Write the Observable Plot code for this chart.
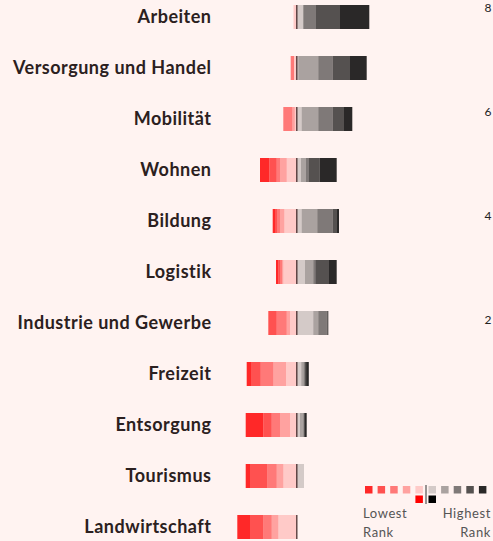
<!DOCTYPE html>
<html>
<head>
<meta charset="utf-8">
<script src="https://cdn.jsdelivr.net/npm/d3@7"></script>
<script src="https://cdn.jsdelivr.net/npm/@observablehq/plot@0.6"></script>
<style>
  html, body { margin: 0; padding: 0; background: #fff3f1; }
  #wrap { position: relative; width: 493px; height: 541px; overflow: hidden; background: #fff3f1; }
  #wrap svg { position: absolute; left: 0; top: 0; }
</style>
</head>
<body>
<div id="wrap"></div>
<script>
const categories = ["Arbeiten", "Versorgung und Handel", "Mobilität", "Wohnen", "Bildung", "Logistik",
  "Industrie und Gewerbe", "Freizeit", "Entsorgung", "Tourismus", "Landwirtschaft"];
// share of each rank per category (rank 1 = lowest, rank 10 = highest)
const rank1  = [0,   0,   0,   9.3, 3,   2.5, 0,    5,    17.6, 4.3,  12.7];
const rank2  = [0,   0,   0,   7.4, 1.8, 1.5, 8.4,  9,    8.4,  17.3, 13.3];
const rank3  = [0,   3.3, 9,   3.3, 2.5, 2,   10,   12.6, 8.3,  9.4,  8.4];
const rank4  = [0,   0,   2.5, 6.7, 4.3, 1.3, 3.3,  12.7, 10,   6.6,  6.6];
const rank5  = [2.8, 2.3, 1.5, 9.6, 12,  13,  6.3,  10.3, 6.3,  13,   18];
const rank6  = [7,   2,   5.4, 4.7, 5.4, 8.7, 17,   5,    3.7,  7.7,  0];
const rank7  = [0,   20,  16.6, 5,  15.6, 8.3, 5,   2.3,  3.3,  0,    0];
const rank8  = [12.7, 14.4, 14.4, 2.5, 15.4, 2, 8.4, 1,    0.5,  0,    0];
const rank9  = [23.3, 17.3, 11.3, 11, 4.3, 13,  0.8,  1.5,  0.5,  0,    0];
const rank10 = [30,  16.7, 8.3, 17.2, 2,   8.4, 0.8,  2.7,  2.4,  0,    0];
const rightTicks = [2, 4, 6, 8];

const ranks = [rank1, rank2, rank3, rank4, rank5, rank6, rank7, rank8, rank9, rank10];
const stackOrder = [5, 4, 3, 2, 1, 6, 7, 8, 9, 10];
const opacityOf = r => r <= 5 ? (6 - r) / 6 : (r - 5) / 6;
const colorOf = r => r <= 5 ? "#ff0000" : "#000000";

const table = [];
categories.forEach((c, i) => {
  stackOrder.forEach(r => {
    const v = ranks[r - 1][i];
    table.push({category: c, rank: r, value: r <= 5 ? -v : v});
  });
});

const wrap = document.getElementById("wrap");

const main = Plot.plot({
  width: 493,
  height: 541,
  marginLeft: 215,
  marginRight: 0,
  marginTop: 0,
  marginBottom: 0,
  style: {background: "transparent", fontFamily: "Lato, sans-serif", overflow: "visible", letterSpacing: "0.5px"},
  x: {domain: [-81.3, 196.7], range: [215, 493], axis: null},
  y: {domain: categories, range: [-8.5, 552.5], paddingInner: 0.53, paddingOuter: 0.265, axis: null},
  opacity: {type: "identity"},
  marks: [
    Plot.barX(table, {
      x: "value", y: "category",
      fill: d => colorOf(d.rank),
      fillOpacity: d => opacityOf(d.rank),
      z: "rank"
    }),
    Plot.tickX(categories, {x: () => 0, y: d => d, stroke: "#4a3030", strokeWidth: 1.3}),
    Plot.axisY({tickSize: 0, tickPadding: 4, fontSize: 18, fontWeight: "bold", fill: "#2b2020",
      anchor: "left", label: null})
  ]
});
main.querySelectorAll("text").forEach(t => t.setAttribute("letter-spacing", "0.5"));
wrap.appendChild(main);

const side = Plot.plot({
  width: 493,
  height: 541,
  marginRight: 9,
  marginLeft: 0,
  marginTop: 0,
  marginBottom: 0,
  style: {background: "transparent", fontFamily: "Lato, sans-serif", overflow: "visible"},
  y: {domain: [0, 8], range: [424, 8]},
  marks: [
    Plot.axisY({anchor: "right", ticks: rightTicks, tickSize: 0, tickPadding: 0, fontSize: 12,
      fill: "#222", label: null})
  ]
});
wrap.appendChild(side);

// legend
const legendRanks = [1, 2, 3, 4, 5, 6, 7, 8, 9, 10];
const svg = d3.select(wrap).append("svg")
  .attr("width", 493).attr("height", 541)
  .style("font-family", "Lato, sans-serif");
const x0 = 365, step = 12.6, sz = 7.5, y0 = 486;
legendRanks.forEach((r, i) => {
  const x = x0 + i * step + (r > 5 ? 0.5 : 0);
  svg.append("rect").attr("x", x).attr("y", y0).attr("width", sz).attr("height", sz)
    .attr("fill", colorOf(r)).attr("fill-opacity", opacityOf(r));
});
svg.append("rect").attr("x", x0 + 4 * step).attr("y", y0 + 9.5).attr("width", sz).attr("height", sz).attr("fill", "#ff0000");
svg.append("rect").attr("x", x0 + 5 * step + 0.5).attr("y", y0 + 9.5).attr("width", sz).attr("height", sz).attr("fill", "#000");
svg.append("line").attr("x1", 426).attr("x2", 426).attr("y1", y0 - 1).attr("y2", y0 + 18)
  .attr("stroke", "#333").attr("stroke-width", 1);
const txt = (t, x, y, a) => svg.append("text").attr("x", x).attr("y", y).attr("text-anchor", a)
  .attr("font-size", 13).attr("letter-spacing", "0.6px").attr("fill", "#555").text(t);
txt("Lowest", 363, 518, "start");
txt("Rank", 363, 537, "start");
txt("Highest", 491, 518, "end");
txt("Rank", 491, 537, "end");
</script>
</body>
</html>
